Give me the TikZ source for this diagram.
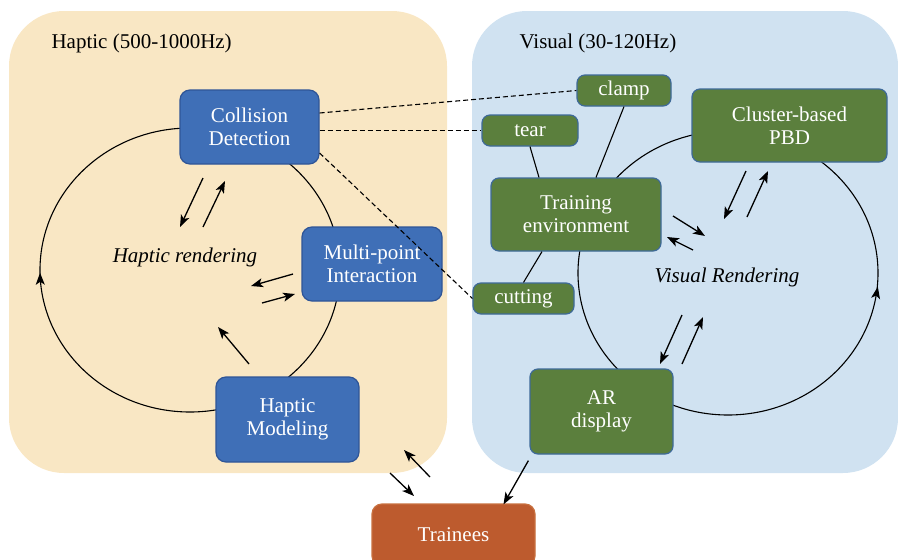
\documentclass[tikz,border=0pt]{standalone}
\usepackage{fontspec}
\setmainfont{Liberation Serif}
\usetikzlibrary{arrows.meta,decorations.markings,calc}
\definecolor{beigebg}{HTML}{F9E7C4}
\definecolor{bluebg}{HTML}{D0E2F1}
\definecolor{boxblue}{HTML}{3F6FB7}
\definecolor{boxblueline}{HTML}{2F5597}
\definecolor{boxgreen}{HTML}{5B7F3D}
\definecolor{boxgreenline}{HTML}{3E6A98}
\definecolor{boxorange}{HTML}{BD5B2E}
\definecolor{boxorangeline}{HTML}{C8703F}
\begin{document}
\begin{tikzpicture}[x=1pt,y=-1pt,
  every node/.style={font=\fontsize{21}{23}\selectfont},
  panelbg/.style={rounded corners=55pt},
  bbox/.style={draw=boxblueline, fill=boxblue, text=white, rounded corners=10pt, line width=1.2pt, align=center, inner sep=0pt},
  gbox/.style={draw=boxgreenline, fill=boxgreen, text=white, rounded corners=8pt, line width=1.2pt, align=center, inner sep=0pt},
  obox/.style={draw=boxorangeline, fill=boxorange, text=white, rounded corners=10pt, line width=1.2pt, align=center, inner sep=0pt},
  ringln/.style={line width=1.1pt},
  arrln/.style={line width=1.3pt, -{Stealth[length=12pt,width=9pt,inset=3pt]}},
  dashln/.style={line width=1.1pt, dash pattern=on 5pt off 3pt},
  tieln/.style={line width=1.1pt},
  lbl/.style={font=\fontsize{21}{23}\selectfont\itshape}
]
\useasboundingbox (0,0) rectangle (898,560);
\clip (0,0) rectangle (898,560);
% panels
\fill[beigebg, panelbg] (9,11) rectangle (447,473);
\fill[bluebg, panelbg] (472,11) rectangle (898,473);
\node[anchor=west] (htitle) at (48,43) {Haptic (500-1000Hz)};
\node[anchor=west] (vtitle) at (516,43) {Visual (30-120Hz)};

% loops
\draw[ringln, postaction={decorate}, decoration={markings, mark=at position 0.497 with {\arrow{Stealth[length=12pt,width=9pt,inset=3pt]}}}]
  (190,270) ellipse [x radius=150, y radius=142];
\draw[ringln, postaction={decorate}, decoration={markings, mark=at position 0.028 with {\arrow{Stealth[length=12pt,width=9pt,inset=3pt,reversed]}}}]
  (728,273) ellipse [x radius=150, y radius=142];

% haptic boxes
\node[bbox, minimum width=139pt, minimum height=74pt] (CD) at (249.5,127) {Collision\\Detection};
\node[bbox, minimum width=140pt, minimum height=74pt] (MP) at (372,264) {Multi-point\\Interaction};
\node[bbox, minimum width=143pt, minimum height=85pt] (HM) at (287.5,419.5) {Haptic\\Modeling};
\node[lbl] (hr) at (185,257) {Haptic rendering};

% visual boxes
\node[gbox, minimum width=94pt, minimum height=31pt] (clamp) at (624,90.5) {clamp};
\node[gbox, minimum width=96pt, minimum height=31pt] (tear) at (530,130.5) {tear};
\node[gbox, minimum width=195pt, minimum height=73pt] (PBD) at (789.5,125.5) {Cluster-based\\PBD};
\node[gbox, minimum width=170pt, minimum height=73pt] (TE) at (576,214.5) {Training\\environment};
\node[gbox, minimum width=101pt, minimum height=31pt] (cut) at (523.5,298.5) {cutting};
\node[gbox, minimum width=143pt, minimum height=85pt] (AR) at (601.5,411.5) {AR\\display};
\node[lbl] (vr) at (727,277) {Visual Rendering};

% trainees
\node[obox, minimum width=163pt, minimum height=62pt] (TR) at (453.5,535) {Trainees};

% dashed links
\draw[dashln] ([yshift=14pt]CD.east) -- (clamp.west);
\draw[dashln] (CD.east |- tear.west) -- (tear.west);
\draw[dashln] ([yshift=-26pt]CD.east) -- (cut.west);

% ties
\draw[tieln] (tear.south) -- ([xshift=-37pt]TE.north);
\draw[tieln] (clamp.south) -- ([xshift=20pt]TE.north);
\draw[tieln] ([xshift=-34pt]TE.south) -- (cut.north);

% small arrows (haptic)
\coordinate (a1s) at (203,178); \coordinate (a1e) at (180,227);
\coordinate (a2s) at (203,227); \coordinate (a2e) at (225,181);
\coordinate (a3s) at (293,274); \coordinate (a3e) at (251,286);
\coordinate (a4s) at (262,303); \coordinate (a4e) at (295,294);
\coordinate (a5s) at (249,364); \coordinate (a5e) at (218,327);
\draw[arrln] (a1s) -- (a1e);
\draw[arrln] (a2s) -- (a2e);
\draw[arrln] (a3s) -- (a3e);
\draw[arrln] (a4s) -- (a4e);
\draw[arrln] (a5s) -- (a5e);

% small arrows (visual)
\coordinate (b1s) at (673,216); \coordinate (b1e) at (705,236);
\coordinate (b2s) at (693,250); \coordinate (b2e) at (667,237);
\coordinate (b3s) at (746,171); \coordinate (b3e) at (724,219);
\coordinate (b4s) at (747,217); \coordinate (b4e) at (768,171);
\coordinate (b5s) at (682,315); \coordinate (b5e) at (660,364);
\coordinate (b6s) at (682,364); \coordinate (b6e) at (703,317);
\draw[arrln] (b1s) -- (b1e);
\draw[arrln] (b2s) -- (b2e);
\draw[arrln] (b3s) -- (b3e);
\draw[arrln] (b4s) -- (b4e);
\draw[arrln] (b5s) -- (b5e);
\draw[arrln] (b6s) -- (b6e);

% trainees arrows
\coordinate (c1s) at (430,477); \coordinate (c1e) at (404,450);
\coordinate (c2s) at (390,473); \coordinate (c2e) at (414,496);
\draw[arrln] (c1s) -- (c1e);
\draw[arrln] (c2s) -- (c2e);
\draw[arrln] ([xshift=-1pt,yshift=-6pt]AR.south west) -- ([xshift=50pt,yshift=-1pt]TR.north);
\end{tikzpicture}
\end{document}
